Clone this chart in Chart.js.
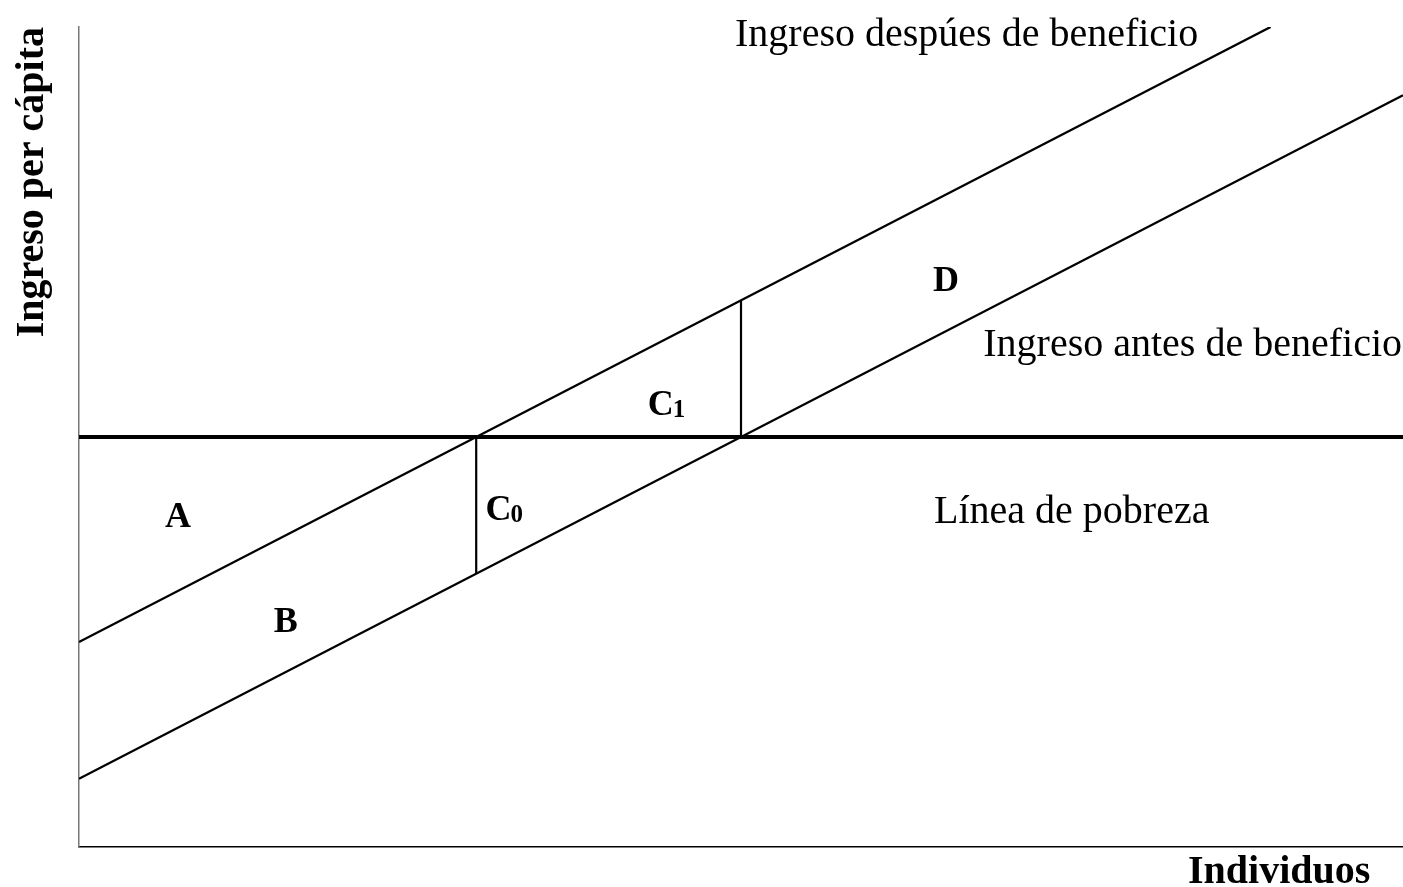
<!DOCTYPE html>
<html>
<head>
<meta charset="utf-8">
<script src="https://cdn.jsdelivr.net/npm/chart.js@4.4.1/dist/chart.umd.min.js"></script>
<style>
body { margin: 0; background: #fff; }
#wrap { width: 1403px; height: 887px; }
</style>
</head>
<body>
<div id="wrap"><canvas id="povertyChart"></canvas></div>
<script>
// x = individuos (ordenados), y = ingreso per capita, unidades arbitrarias 0-100
let lineaPobreza = [{x: 0, y: 50}, {x: 100, y: 50}]
let ingresoAntes = [{x: 0, y: 8.33}, {x: 100, y: 91.67}]
let ingresoDespues = [{x: 0, y: 25}, {x: 90, y: 100}]
let corteC0 = [{x: 30, y: 50}, {x: 30, y: 33.33}]
let corteC1 = [{x: 50, y: 50}, {x: 50, y: 66.67}]

// areas marked on the diagram
let areaNames = ['A', 'B', 'C', 'C', 'D']
let areaSubs = ['', '', '0', '1', '']
let areaX = [6.5, 14.7, 30.7, 42.95, 64.5]
let areaY = [39.0, 26.2, 39.9, 52.7, 67.8]

// curve names
let curveNames = ['Ingreso despúes de beneficio', 'Ingreso antes de beneficio', 'Línea de pobreza']
let curveX = [49.55, 68.3, 64.58]
let curveY = [97.7, 59.9, 39.5]

const xTitle = 'Individuos'
const yTitle = 'Ingreso per cápita'

const serif = '"Liberation Serif", "Times New Roman", serif'

const diagramText = {
    id: 'diagramText',
    afterDatasetsDraw(chart) {
        const {ctx, chartArea, scales: {x, y}} = chart
        ctx.save()
        ctx.fillStyle = '#000'
        ctx.textBaseline = 'alphabetic'
        ctx.textAlign = 'left'

        ctx.font = '40px ' + serif
        curveNames.forEach((t, i) => {
            ctx.fillText(t, x.getPixelForValue(curveX[i]), y.getPixelForValue(curveY[i]))
        })

        areaNames.forEach((t, i) => {
            let px = x.getPixelForValue(areaX[i])
            let py = y.getPixelForValue(areaY[i])
            ctx.font = 'bold 36px ' + serif
            ctx.fillText(t, px, py)
            if (areaSubs[i]) {
                let w = ctx.measureText(t).width
                ctx.font = 'bold 25px ' + serif
                ctx.fillText(areaSubs[i], px + w - 1, py + 2)
            }
        })

        // axis titles
        ctx.font = 'bold 40px ' + serif
        ctx.fillText(xTitle, x.getPixelForValue(83.76), chartArea.bottom + 36)

        ctx.translate(chartArea.left - 36, chartArea.top)
        ctx.rotate(-Math.PI / 2)
        ctx.textAlign = 'right'
        ctx.fillText(yTitle, 0, 0)
        ctx.restore()
    }
}

function seg(points, width) {
    return {
        data: points,
        showLine: true,
        borderColor: '#000',
        borderWidth: width,
        pointRadius: 0,
        pointHoverRadius: 0,
        fill: false
    }
}

let ctx = document.getElementById('povertyChart').getContext('2d')

new Chart(ctx, {
    type: 'scatter',
    data: {
        datasets: [
            seg(ingresoDespues, 2.3),
            seg(ingresoAntes, 2.3),
            seg(lineaPobreza, 4),
            seg(corteC0, 2.2),
            seg(corteC1, 2.2)
        ]
    },
    plugins: [diagramText],
    options: {
        responsive: true,
        maintainAspectRatio: false,
        animation: false,
        layout: {
            autoPadding: false,
            padding: {left: 79, top: 27, right: 0, bottom: 40}
        },
        scales: {
            x: {
                type: 'linear',
                min: 0,
                max: 100,
                ticks: {display: false},
                grid: {display: false},
                border: {display: true, color: '#000', width: 1.5},
                afterFit(scale) { scale.height = 0 }
            },
            y: {
                type: 'linear',
                min: 0,
                max: 100,
                ticks: {display: false},
                grid: {display: false},
                border: {display: true, color: '#777', width: 1.5},
                afterFit(scale) { scale.width = 0 }
            }
        },
        plugins: {
            legend: {display: false},
            tooltip: {enabled: false}
        }
    }
})
</script>
</body>
</html>
